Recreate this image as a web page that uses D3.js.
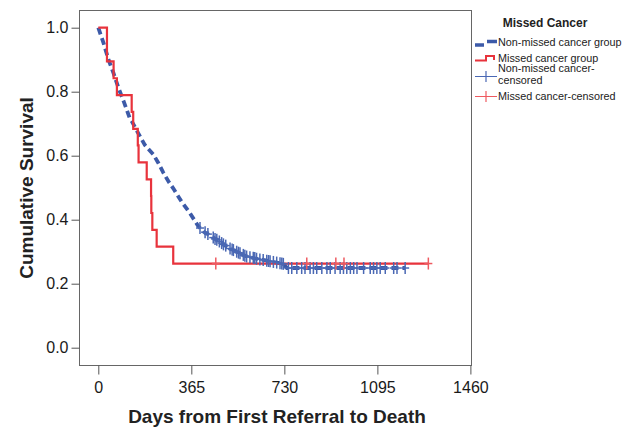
<!DOCTYPE html>
<html>
<head>
<meta charset="utf-8">
<script src="https://cdn.jsdelivr.net/npm/d3@7"></script>
<style>
  body { margin: 0; background: #fff; }
  svg { display: block; font-family: "Liberation Sans", Arial, sans-serif; }
</style>
</head>
<body>
<svg id="chart" width="632" height="428"></svg>
<script>
// x axis ticks (days) and y ticks
var xTicks = [0, 365, 730, 1095, 1460];
var yTicks = [0, 0.2, 0.4, 0.6, 0.8, 1.0];

// missed cancer group (step curve)
var redDays = [0, 34, 60, 73, 131, 137, 155, 158, 190, 207, 208, 212, 229, 294, 1295];
var redSurv = [1.0, 0.895, 0.842, 0.789, 0.737, 0.684, 0.632, 0.579, 0.526, 0.474, 0.421, 0.368, 0.316, 0.263, 0.263];
var redCensorDays = [461, 818, 932, 964, 1295];
var redCensorSurv = [0.263, 0.263, 0.263, 0.263, 0.263];

// non-missed cancer group (many small steps, reads as a smooth line)
var blueDays = [0, 21, 40, 60, 80, 100, 111, 124, 131, 157, 183, 200, 216, 235, 255, 275, 294, 327, 360, 392, 412, 440, 465, 490, 517, 550, 582, 620, 661, 700, 726, 740, 1204];
var blueSurv = [1.0, 0.951, 0.90, 0.857, 0.81, 0.769, 0.745, 0.716, 0.708, 0.67, 0.633, 0.618, 0.604, 0.578, 0.547, 0.52, 0.498, 0.456, 0.42, 0.38, 0.363, 0.35, 0.337, 0.323, 0.31, 0.297, 0.285, 0.278, 0.272, 0.266, 0.262, 0.249, 0.249];
var blueCensorDays = [399, 419, 430, 451, 458, 465, 475, 484, 491, 500, 517, 525, 530, 543, 550, 556, 569, 575, 582, 595, 608, 614, 621, 634, 647, 661, 668, 674, 687, 700, 713, 720, 726,
  746, 759, 779, 798, 811, 831, 844, 857, 877, 897, 910, 929, 949, 962, 975, 989, 1002, 1015, 1041, 1067, 1080, 1093, 1106, 1126, 1159, 1172, 1204];
var blueCensorSurv = [0.374, 0.361, 0.355, 0.344, 0.34, 0.337, 0.332, 0.327, 0.323, 0.319, 0.31, 0.307, 0.305, 0.3, 0.297, 0.295, 0.29, 0.287, 0.285, 0.283, 0.281, 0.28, 0.278, 0.276, 0.274, 0.272, 0.271, 0.27, 0.268, 0.266, 0.264, 0.263, 0.262,
  0.249, 0.249, 0.249, 0.249, 0.249, 0.249, 0.249, 0.249, 0.249, 0.249, 0.249, 0.249, 0.249, 0.249, 0.249, 0.249, 0.249, 0.249, 0.249, 0.249, 0.249, 0.249, 0.249, 0.249, 0.249, 0.249, 0.249];

var legendTitle = "Missed Cancer";
var legendLabels = [["Non-missed cancer group"], ["Missed cancer group"], ["Non-missed cancer-", "censored"], ["Missed cancer-censored"]];

var RED = "#e8333c", BLUE = "#3c5aa8", RED_C = "#ee5a60", BLUE_C = "#4a68b4";

var svg = d3.select("#chart");
var frame = { left: 79, right: 471, top: 10, bottom: 365 };

var x = d3.scaleLinear().domain([0, 1460]).range([98.3, 470.4]);
var y = d3.scaleLinear().domain([0, 1]).range([347.7, 27.7]);

// plot frame
svg.append("rect")
    .attr("x", frame.left + 0.5).attr("y", frame.top + 0.5)
    .attr("width", frame.right - frame.left).attr("height", frame.bottom - frame.top)
    .attr("fill", "none").attr("stroke", "#666").attr("stroke-width", 1);

// axes
var xAxis = svg.append("g").attr("transform", "translate(0," + (frame.bottom + 0.5) + ")")
    .call(d3.axisBottom(x).tickValues(xTicks).tickSize(9).tickPadding(7).tickFormat(d3.format("d")));
var yAxis = svg.append("g").attr("transform", "translate(" + (frame.left + 0.5) + ",0)")
    .call(d3.axisLeft(y).tickValues(yTicks).tickSize(8).tickPadding(3).tickFormat(d3.format(".1f")));
[xAxis, yAxis].forEach(function(g){
    g.select(".domain").remove();
    g.selectAll(".tick line").attr("stroke", "#555");
    g.selectAll(".tick text").attr("fill", "#1a1a1a").style("font-size", "16px")
        .style("font-family", "'Liberation Sans', Arial, sans-serif");
});

// axis titles
svg.append("text")
    .attr("x", 277).attr("y", 423)
    .attr("text-anchor", "middle")
    .style("font-size", "19px").style("font-weight", "bold").attr("fill", "#222")
    .text("Days from First Referral to Death");
svg.append("text")
    .attr("transform", "translate(33,188) rotate(-90)")
    .attr("text-anchor", "middle")
    .style("font-size", "19px").style("font-weight", "bold").attr("fill", "#222")
    .text("Cumulative Survival");

// curves
var blueData = blueDays.map(function(d, i){ return [d, blueSurv[i]]; });
var redData = redDays.map(function(d, i){ return [d, redSurv[i]]; });

svg.append("path")
    .datum(blueData)
    .attr("d", d3.line().x(function(d){ return x(d[0]); }).y(function(d){ return y(d[1]); }))
    .attr("fill", "none").attr("stroke", BLUE).attr("stroke-width", 3.8)
    .attr("stroke-dasharray", "7,4");

svg.append("path")
    .datum(redData)
    .attr("d", d3.line().curve(d3.curveStepAfter).x(function(d){ return x(d[0]); }).y(function(d){ return y(d[1]); }))
    .attr("fill", "none").attr("stroke", RED).attr("stroke-width", 2.2);

// censor marks
function censor(days, surv, color){
    var g = svg.append("g").attr("stroke", color).attr("stroke-width", 1.5);
    days.forEach(function(d, i){
        var cx = x(d), cy = y(surv[i]);
        g.append("line").attr("x1", cx).attr("x2", cx).attr("y1", cy - 6).attr("y2", cy + 6);
        g.append("line").attr("x1", cx - 4).attr("x2", cx + 4).attr("y1", cy).attr("y2", cy);
    });
}
censor(blueCensorDays, blueCensorSurv, BLUE_C);
censor(redCensorDays, redCensorSurv, RED_C);

// legend
var lg = svg.append("g");
lg.append("text").attr("x", 545).attr("y", 27).attr("text-anchor", "middle")
    .style("font-size", "12px").style("font-weight", "bold").attr("fill", "#222").text(legendTitle);

lg.append("path").attr("d", "M475,45H484M487,41.5H497")
    .attr("fill", "none").attr("stroke", BLUE).attr("stroke-width", 3.5);
lg.append("path").attr("d", "M475,60.5H486V56H494V60")
    .attr("fill", "none").attr("stroke", RED).attr("stroke-width", 2);
lg.append("path").attr("d", "M475,76.5H497M486,71V82")
    .attr("fill", "none").attr("stroke", BLUE_C).attr("stroke-width", 1.2);
lg.append("path").attr("d", "M475,96.5H497M486,91V102")
    .attr("fill", "none").attr("stroke", RED_C).attr("stroke-width", 1.2);

var labelY = [[45.5], [61.5], [72, 84], [100]];
legendLabels.forEach(function(lines, i){
    lines.forEach(function(t, j){
        lg.append("text").attr("x", 498).attr("y", labelY[i][j])
            .style("font-size", "10.8px").attr("fill", "#222").text(t);
    });
});
</script>
</body>
</html>
